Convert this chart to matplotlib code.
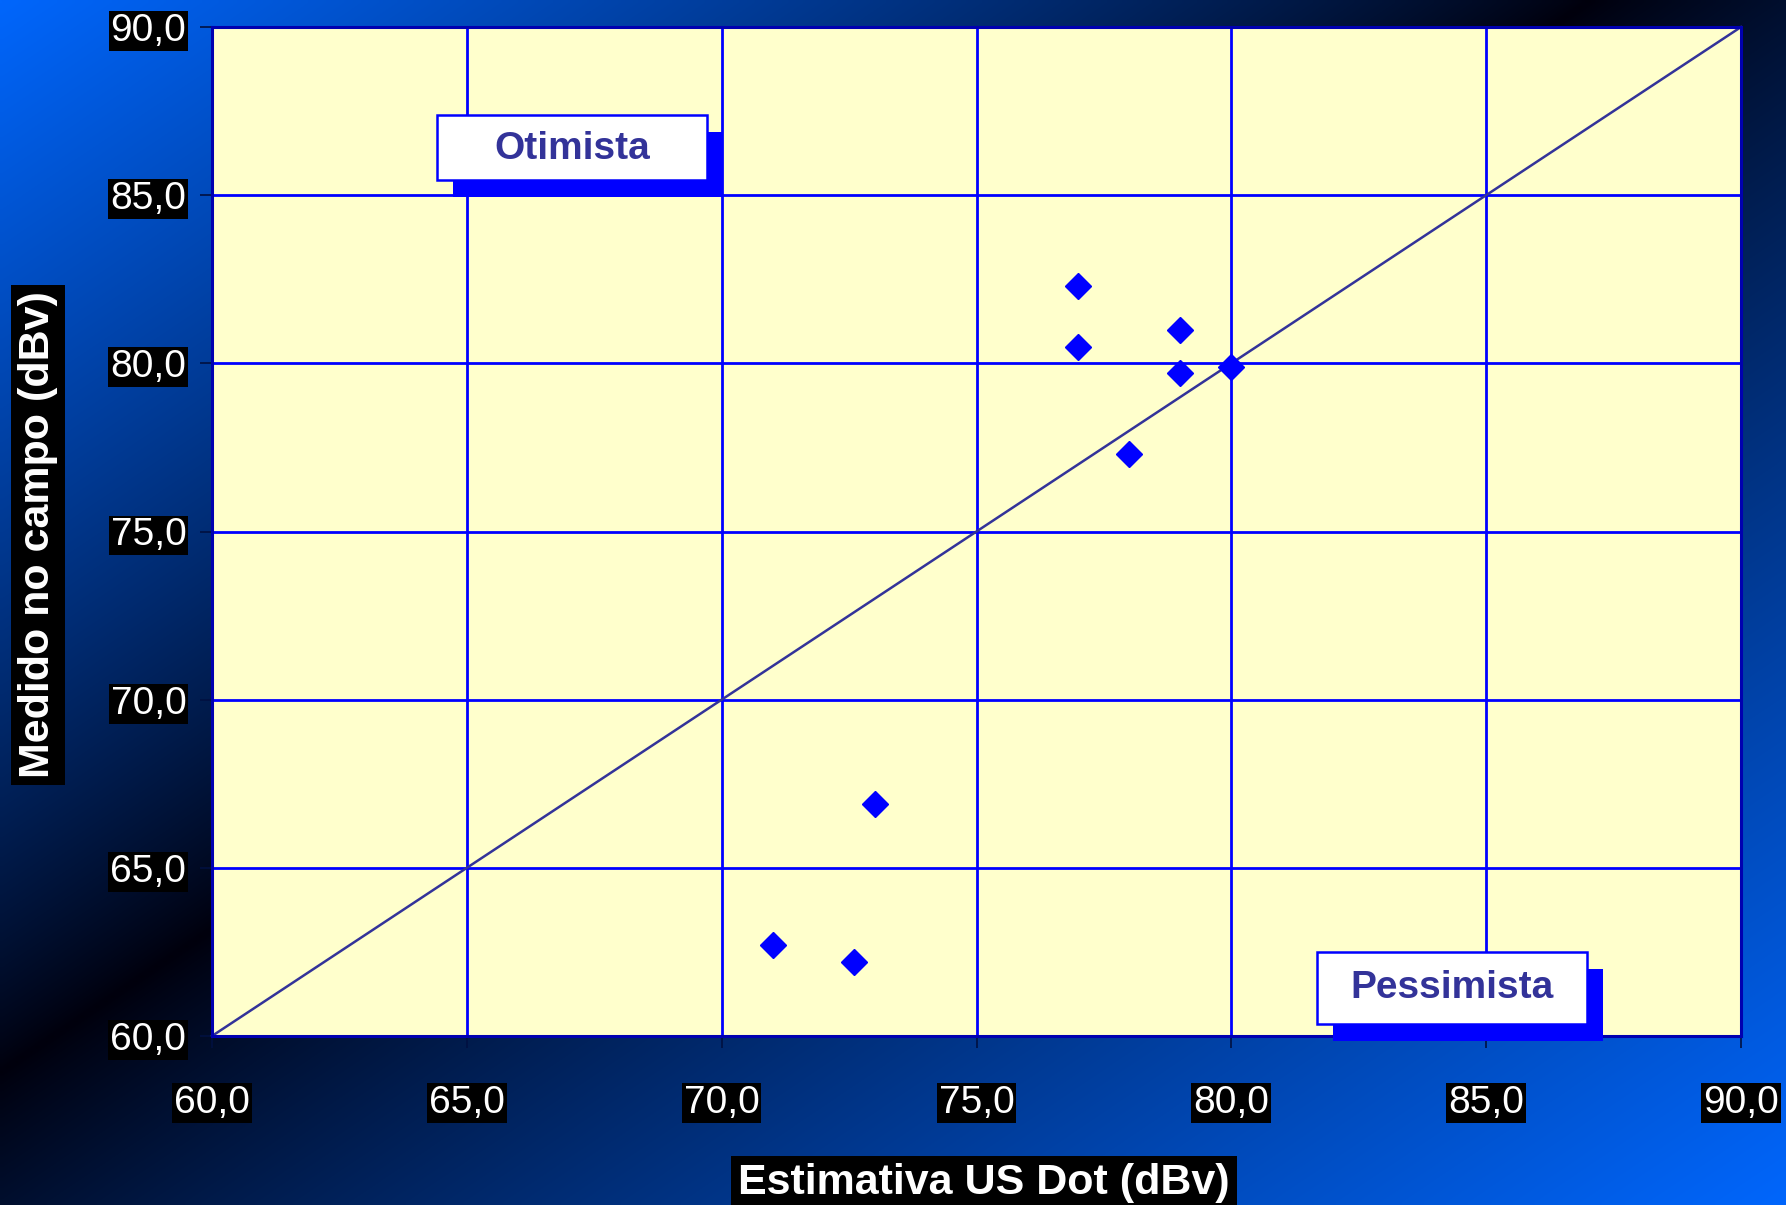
import numpy as np
import matplotlib
matplotlib.use('Agg')
import matplotlib.pyplot as plt
from matplotlib.patches import Rectangle

plt.rcParams['font.family'] = ['Liberation Sans', 'DejaVu Sans']

# estimated (US Dot) vs measured field strength, dBv
estimativa = [77.0, 77.0, 79.0, 79.0, 80.0, 78.0, 73.0, 71.0, 72.6]
medido = [82.3, 80.5, 81.0, 79.7, 79.9, 77.3, 66.9, 62.7, 62.2]

ticks = [60, 65, 70, 75, 80, 85, 90]
tick_labels = ['60,0', '65,0', '70,0', '75,0', '80,0', '85,0', '90,0']
diag = [60, 90]

W, H = 1786, 1205
fig = plt.figure(figsize=(W / 100, H / 100), dpi=100)

# background: diagonal gradient, dark band from bottom-left to top-right
bg = fig.add_axes([0, 0, 1, 1])
u, v = np.meshgrid(np.linspace(0, 1, 360), np.linspace(0, 1, 240))
s = u + v - 0.89
t = np.where(s < 0, -s / 0.89, s / 1.11)
t = np.clip(t, 0, 1) ** 0.85
dark = np.array([0, 0, 12]) / 255
bright = np.array([0, 102, 252]) / 255
img = dark[None, None, :] + t[:, :, None] * (bright - dark)[None, None, :]
bg.imshow(img, aspect='auto', interpolation='bilinear', extent=[0, 1, 0, 1])
bg.set_xlim(0, 1)
bg.set_ylim(0, 1)
bg.axis('off')

ax = fig.add_axes([212 / W, 1 - 1036 / H, 1529 / W, 1009 / H])
ax.set_facecolor('#FFFFCC')
ax.set_xlim(60, 90)
ax.set_ylim(60, 90)
ax.set_xticks(ticks)
ax.set_yticks(ticks)
ax.set_xticklabels(tick_labels)
ax.set_yticklabels(tick_labels)
ax.set_axisbelow(True)
ax.grid(color='#0000FF', linewidth=2.0)
for sp in ax.spines.values():
    sp.set_color('#0000B0')
    sp.set_linewidth(2.2)

ax.tick_params(axis='both', length=8.5, width=1.2, color='#001040',
               labelsize=28, labelcolor='white')
ax.tick_params(axis='y', pad=10)
ax.tick_params(axis='x', pad=27)
for lbl in ax.get_xticklabels() + ax.get_yticklabels():
    lbl.set_bbox(dict(facecolor='black', edgecolor='none', pad=1.5))

ax.plot(diag, diag, color='#333399', linewidth=1.8, zorder=2.5, clip_on=False)
ax.plot(estimativa, medido, linestyle='none', marker='D', markersize=13.5,
        color='#0000FF', zorder=4)

# annotation boxes with drop shadow
def label_box(x0, y0, x1, y1, dx, dy, text, tx, ty):
    ax.add_patch(Rectangle((x0 + dx, y0 + dy), x1 - x0, y1 - y0,
                           transform=ax.transAxes, facecolor='#0000FF',
                           edgecolor='none', zorder=5, clip_on=False))
    ax.add_patch(Rectangle((x0, y0), x1 - x0, y1 - y0,
                           transform=ax.transAxes, facecolor='white',
                           edgecolor='#0000FF', linewidth=1.8, zorder=6,
                           clip_on=False))
    ax.text(tx, ty, text, transform=ax.transAxes, ha='center', va='center',
            fontsize=28, fontweight='bold', color='#333399', zorder=7)

label_box(0.1472, 0.8484, 0.3237, 0.9128, 0.0105, -0.0168,
          'Otimista', 0.2359, 0.8790)
label_box(0.7227, 0.0119, 0.8993, 0.0833, 0.0105, -0.0168,
          'Pessimista', 0.811, 0.0480)

fig.text(984 / W, 1 - 1183 / H, 'Estimativa US Dot (dBv)', ha='center',
         va='center', fontsize=31, fontweight='bold', color='white',
         bbox=dict(facecolor='black', edgecolor='none', pad=5))
fig.text(38 / W, 1 - 535 / H, 'Medido no campo (dBv)', ha='center',
         va='center', rotation=90, fontsize=31, fontweight='bold',
         color='white', bbox=dict(facecolor='black', edgecolor='none', pad=5))

fig.savefig('out.png', dpi=100)
